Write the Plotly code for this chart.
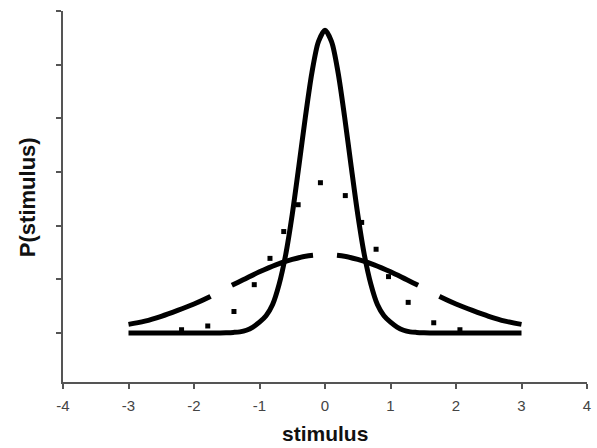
import plotly.graph_objects as go

# narrow solid curve
narrow_x = [-3.0, -2.0, -1.6, -1.5, -1.4, -1.3, -1.2, -1.1, -1.0, -0.9, -0.8, -0.7, -0.6, -0.5, -0.4, -0.3, -0.2, -0.1, 0.0,
            0.1, 0.2, 0.3, 0.4, 0.5, 0.6, 0.7, 0.8, 0.9, 1.0, 1.1, 1.2, 1.3, 1.4, 1.5, 1.6, 2.0, 3.0]
narrow_y = [0.0, 0.0, 0.0, 0.004, 0.01, 0.02, 0.05, 0.11, 0.2, 0.32, 0.53, 0.91, 1.46, 2.21, 3.1, 4.02, 4.85, 5.43, 5.64,
            5.43, 4.85, 4.02, 3.1, 2.21, 1.46, 0.91, 0.53, 0.32, 0.2, 0.11, 0.05, 0.02, 0.01, 0.004, 0.0, 0.0, 0.0]

# wide dashed curve
wide_x = [-3.0, -2.75, -2.5, -2.25, -2.0, -1.75, -1.5, -1.25, -1.0, -0.75, -0.5, -0.25, 0.0,
          0.25, 0.5, 0.75, 1.0, 1.25, 1.5, 1.75, 2.0, 2.25, 2.5, 2.75, 3.0]
wide_y = [0.16, 0.22, 0.31, 0.42, 0.54, 0.68, 0.84, 0.99, 1.14, 1.27, 1.37, 1.44, 1.46,
          1.44, 1.37, 1.27, 1.14, 0.99, 0.84, 0.68, 0.54, 0.42, 0.31, 0.22, 0.16]

# dotted curve (visible dots)
dot_x = [-2.19, -1.79, -1.39, -1.08, -0.84, -0.63, -0.41, -0.07, 0.31, 0.56, 0.78, 0.97, 1.27, 1.66, 2.06]
dot_y = [0.06, 0.13, 0.40, 0.90, 1.39, 1.89, 2.39, 2.80, 2.56, 2.06, 1.56, 1.05, 0.57, 0.19, 0.06]

x_ticks = [-4, -3, -2, -1, 0, 1, 2, 3, 4]
y_ticks = [0, 1, 2, 3, 4, 5, 6]

fig = go.Figure()
fig.add_trace(go.Scatter(x=wide_x, y=wide_y, mode="lines",
                         line=dict(color="black", width=5, dash="87px,24px", shape="spline"),
                         hoverinfo="skip"))
fig.add_trace(go.Scatter(x=narrow_x, y=narrow_y, mode="lines",
                         line=dict(color="black", width=5, shape="spline", smoothing=0.8),
                         hoverinfo="skip"))
fig.add_trace(go.Scatter(x=dot_x, y=dot_y, mode="markers", marker=dict(symbol="square", size=5, color="black"),
                         hoverinfo="skip"))

axis_col = "#555555"
fig.update_layout(
    width=597, height=448,
    margin=dict(l=63, r=6, t=11, b=66),
    paper_bgcolor="white", plot_bgcolor="white",
    showlegend=False,
    font=dict(family="Liberation Sans, Arial", color="#333333"),
    xaxis=dict(range=[-4, 4], tickvals=x_ticks, ticktext=[str(v) for v in x_ticks],
               showgrid=False, zeroline=False, showline=True, linecolor=axis_col, linewidth=1.5,
               ticks="outside", ticklen=5, tickwidth=1.5, tickcolor=axis_col,
               tickfont=dict(size=15, color="#444444"), ticklabelstandoff=4),
    yaxis=dict(range=[-0.914, 6], tickvals=y_ticks, showticklabels=False,
               showgrid=False, zeroline=False, showline=True, linecolor=axis_col, linewidth=1.5,
               ticks="outside", ticklen=5, tickwidth=1.5, tickcolor=axis_col),
    annotations=[
        dict(text="<b>stimulus</b>", xref="paper", yref="paper", x=0.5, y=-0.138,
             xanchor="center", yanchor="middle", showarrow=False,
             font=dict(size=21, color="#111111", family="Liberation Sans, Arial")),
        dict(text="<b>P(stimulus)</b>", xref="paper", yref="paper", x=-0.0663, y=0.499,
             xanchor="center", yanchor="middle", showarrow=False, textangle=-90,
             font=dict(size=22, color="#111111", family="Liberation Sans, Arial")),
    ],
)

fig.write_html("out.html")
